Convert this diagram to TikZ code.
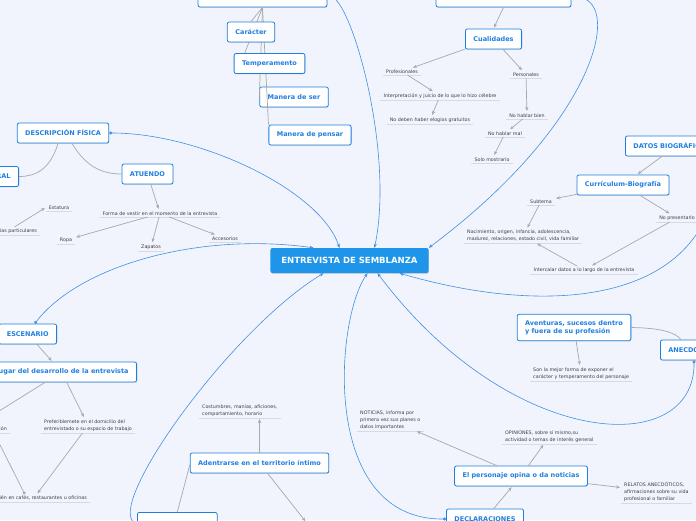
\documentclass[tikz,border=0pt]{standalone}
\usepackage{fontspec}
\setmainfont{DejaVu Sans}
\usetikzlibrary{arrows.meta,shadows}
\definecolor{fondo}{HTML}{F1F4FC}
\definecolor{azul}{HTML}{1F7FE0}
\definecolor{azulc}{HTML}{1E95E8}
\definecolor{curva}{HTML}{3F8FE6}
\definecolor{gris}{HTML}{A8A8A8}
\definecolor{texto}{HTML}{404040}
\definecolor{raya}{HTML}{D6DAE3}

\begin{document}
\begin{tikzpicture}[>={Stealth[length=4pt,width=3.2pt]},x=1pt,y=-1pt,
  box/.style={draw=azul,line width=0.8pt,fill=white,rounded corners=2pt,text=azul,
    font=\bfseries\fontsize{6.5}{8}\selectfont,align=left,inner xsep=8pt,inner ysep=6pt,
    minimum height=20pt,drop shadow={shadow xshift=0.4pt,shadow yshift=-0.8pt,opacity=0.25}},
  centro/.style={fill=azulc,rounded corners=2pt,text=white,font=\bfseries\fontsize{8.5}{10}\selectfont,
    inner xsep=11pt,minimum height=25pt,drop shadow={shadow xshift=0.4pt,shadow yshift=-0.8pt,opacity=0.25}},
  leaf/.style={text=texto,font=\fontsize{4.8}{7}\selectfont,align=left,inner xsep=3pt,inner ysep=1.5pt,
    append after command={(\tikzlastnode.south west) edge[draw=raya,line width=0.8pt] (\tikzlastnode.south east)}},
  link/.style={draw=gris,line width=0.7pt},
  arr/.style={link,->,shorten >=1pt},
  conn/.style={draw=curva,line width=0.6pt,{Circle[length=3pt]}->}]
\useasboundingbox (0,0) rectangle (696,520);
\clip (0,0) rectangle (696,520);
\fill[fondo] (0,0) rectangle (696,520);

\node[box,minimum width=129pt] (ret) at (262.5,-3) {};
\node[box] (pens) at (310,135) {Manera de pensar};
\node[box] (ser) at (294,97) {Manera de ser};
\draw[link] (ret.south) -- (pens.north west);
\draw[link] (ret.south) -- (ser.west);
\node[box] (temp) at (269.5,63.5) {Temperamento};
\draw[link] (ret.south) -- ([xshift=11pt]temp.north west);
\node[box] (car) at (251,32) {Carácter};
\draw[link] (ret.south) -- (car.north);

\node[box,minimum width=135pt] (moral) at (503.5,-3) {};
\node[box] (cual) at (493.5,39) {Cualidades};
\node[leaf,anchor=south] (prof) at (402,75) {Profesionales};
\node[leaf,anchor=south] (pers) at (526,78) {Personales};
\node[leaf,anchor=south] (interp) at (440,100) {Interpretación y juicio de lo que lo hizo célebre};
\node[leaf,anchor=south] (elog) at (430,124) {No deben haber elogios gratuitos};
\node[leaf,anchor=south] (bien) at (527,119) {No hablar bien};
\node[leaf,anchor=south] (mal) at (505,137) {No hablar mal};
\node[leaf,anchor=south] (mostr) at (492,163) {Solo mostrario};
\draw[arr] (moral.south) -- (cual.north);
\draw[arr] (cual) -- (prof);
\draw[arr] (cual) -- (pers);
\draw[arr] (prof) -- (interp);
\draw[arr] (interp) -- (elog);
\draw[arr] (pers) -- (bien);
\draw[arr] (bien) -- (mal);
\draw[arr] (mal) -- (mostr);

\node[box,anchor=west] (datos) at (625,146) {DATOS BIOGRÁFICOS};
\node[box] (curr) at (623,185) {Currículum-Biografía};
\node[leaf,anchor=south] (subt) at (541,205) {Subtema};
\node[leaf,anchor=south] (nopres) at (677,222) {No presentarlo};
\node[leaf,anchor=south west] (nacim) at (464,243) {Nacimiento, origen, infancia, adolescencia,\\madurez, relaciones, estado civil, vida familiar};
\node[leaf,anchor=south] (interc) at (584,274) {Intercalar datos a lo largo de la entrevista};
\draw[arr] ([xshift=37pt]datos.south west) -- ([xshift=14pt]curr.north);
\draw[arr] (curr) -- (subt);
\draw[arr] (curr) -- (nopres);
\draw[arr] (subt) -- (nacim);
\draw[arr] (nopres) -- (interc);
\draw[arr] (interc) -- (nacim);

\node[box] (desc) at (63,133) {DESCRIPCIÓN FÍSICA};
\node[box,anchor=east] (gen) at (19,176.5) {ASPECTO GENERAL};
\node[box] (atu) at (147.5,174) {ATUENDO};
\node[leaf,anchor=south] (forma) at (160,217) {Forma de vestir en el momento de la entrevista};
\node[leaf,anchor=south] (estat) at (59,211) {Estatura};
\node[leaf,anchor=south east] (senas) at (40,235) {Señas particulares};
\node[leaf,anchor=south] (ropa) at (66,244) {Ropa};
\node[leaf,anchor=south] (zapat) at (151,251) {Zapatos};
\node[leaf,anchor=south] (acces) at (225,242) {Accesorios};
\draw[link] ([xshift=-5pt]desc.south) .. controls (50,170) and (35,176.5) .. (gen.east);
\draw[link] ([xshift=9pt]desc.south) .. controls (85,165) and (100,174) .. (atu.west);
\draw[arr] (atu) -- (forma);
\draw[arr] (senas.north) -- (estat.west);
\draw[arr] (forma) -- (ropa);
\draw[arr] (forma) -- (zapat);
\draw[arr] (forma) -- (acces);

\node[centro] (cent) at (349.5,260.5) {ENTREVISTA DE SEMBLANZA};

\node[box,anchor=east] (escen) at (57,334) {ESCENARIO};
\node[box,anchor=east] (lugar) at (137,372) {Lugar del desarrollo de la entrevista};
\node[leaf,anchor=south east] (neutro) at (10,433) {Sitio neutral, según la ocasión};
\node[leaf,anchor=south west] (pref) at (41,433) {Preferiblemete en el domicilio del\\entrevistado o su espacio de trabajo};
\node[leaf,anchor=south east] (cafes) at (90,502) {También en cafés, restaurantes u oficinas};
\draw[arr] (escen) -- (lugar);
\draw[arr] (lugar) -- (neutro);
\draw[arr] (lugar) -- (pref);
\draw[arr] (pref) -- (cafes.north);
\draw[link,-{Circle[length=3pt]}] ([xshift=-16pt]neutro.south east) -- ([xshift=-12pt]cafes.north);

\node[box] (adent) at (259.5,463) {Adentrarse en el territorio íntimo};
\node[leaf,anchor=south west] (costum) at (199,418) {Costumbres, manías, aficiones,\\comportamiento, horario};
\coordinate (abajo) at (306,522);
\node[box,anchor=north west,minimum height=24pt] (ambito) at (137,512) {ÁMBITO PRIVADO};
\draw[arr] (adent) -- (adent |- costum.south);
\draw[arr] (adent) -- (abajo);
\draw[link] (ambito.north) -- ([yshift=-2pt]adent.west);

\node[box] (decl) at (485,519) {DECLARACIONES};
\node[box] (perso) at (521,476) {El personaje opina o da noticias};
\node[leaf,anchor=south west] (notic) at (357,431) {NOTICIAS, informa por\\primera vez sus planes o\\datos importantes};
\node[leaf,anchor=south west] (opin) at (502,444) {OPINIONES, sobre sí mismo,su\\actividad o temas de interés general};
\node[leaf,anchor=south west] (relat) at (621,503) {RELATOS ANECDÓTICOS,\\afirmaciones sobre su vida\\profesional o familiar};
\draw[arr] (decl) -- (perso);
\draw[arr] (perso) -- (notic);
\draw[arr] (perso) -- (opin);
\draw[arr] (perso) -- (relat);

\node[box] (avent) at (574,327.5) {Aventuras, sucesos dentro\\y fuera de su profesión};
\node[box,anchor=west] (anec) at (660,350) {ANECDOTAS};
\node[leaf,anchor=south west] (mejor) at (530,381) {Son la mejor forma de exponer el\\carácter y temperamento del personaje};
\draw[link] (avent.east) .. controls (660,328) and (675,332) .. ([xshift=21pt]anec.north west);
\draw[arr] (avent) -- (mejor);

\draw[conn] (desc.east) .. controls (200,133) and (320,190) .. ([xshift=-10pt]cent.north);
\draw[conn] (ret.east) .. controls (350,-5) and (395,150) .. ([xshift=25pt]cent.north);
\draw[conn] (moral.east) .. controls (625,-5) and (600,120) .. (cent.north east);
\draw[conn] ([xshift=7pt]escen.north) .. controls (80,265) and (200,232) .. ([xshift=-36pt]cent.north);
\draw[conn] (ambito.west) .. controls (105,505) and (230,330) .. ([xshift=-26pt]cent.south);
\draw[conn] (decl.west) .. controls (320,520) and (335,320) .. ([xshift=18pt]cent.south);
\draw[conn] ([xshift=34pt]anec.south west) .. controls (695,460) and (510,450) .. ([xshift=28pt]cent.south);
\draw[conn] (datos.south east) .. controls (715,300) and (560,320) .. ([xshift=50pt]cent.south);
\end{tikzpicture}
\end{document}
